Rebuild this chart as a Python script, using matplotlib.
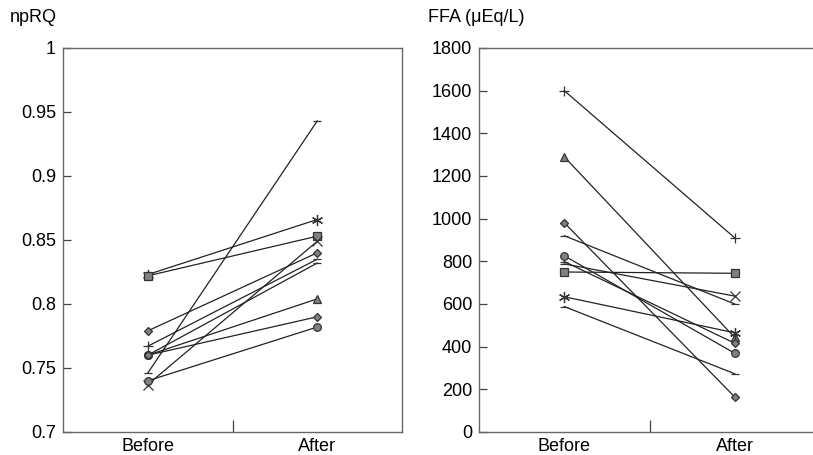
import matplotlib
matplotlib.use("Agg")
import matplotlib.pyplot as plt
from matplotlib.ticker import FormatStrFormatter, FixedLocator

plt.rcParams['font.family'] = ['Liberation Sans', 'DejaVu Sans']

# npRQ, before / after for each subject
npRQ_before = [0.746, 0.823, 0.822, 0.737, 0.779, 0.767, 0.760, 0.760, 0.760, 0.740]
npRQ_after = [0.943, 0.866, 0.853, 0.849, 0.840, 0.835, 0.832, 0.804, 0.790, 0.782]

# FFA (uEq/L), before / after
ffa_before = [1600, 1290, 981, 920, 826, 799, 788, 750, 634, 588]
ffa_after = [910, 443, 164, 600, 369, 416, 637, 744, 465, 273]

groups = ['Before', 'After']
npRQ_ticks = [0.7, 0.75, 0.8, 0.85, 0.9, 0.95, 1]
ffa_ticks = list(range(0, 1801, 200))

AST = (6, 2, 0)
npRQ_mk_b = ['_', AST, 's', 'x', 'D', '+', 'o', 'o', 'D', 'o']
npRQ_mk_a = ['_', AST, 's', 'x', 'D', '_', '_', '^', 'D', 'o']
ffa_mk_b = ['+', '^', 'D', '_', 'o', '_', '_', 's', AST, '_']
ffa_mk_a = ['+', '^', 'D', '_', 'o', 'D', 'x', 's', AST, '_']

# marker sizes
SIZES = {'D': 4.5, 'x': 7, AST: 8, '+': 7}

fig = plt.figure(figsize=(8.13, 4.55), dpi=100)
W, H = 813, 455
ax1 = fig.add_axes([63 / W, 1 - 432 / H, 339 / W, 384 / H])
ax2 = fig.add_axes([479 / W, 1 - 432 / H, 341 / W, 384 / H])


def draw(ax, before, after, mk_b, mk_a):
    for b, a, m1, m2 in zip(before, after, mk_b, mk_a):
        ax.plot([1, 3], [b, a], color='#222222', lw=0.9, zorder=2)
        for x, y, m in ((1, b, m1), (3, a, m2)):
            ax.plot(x, y, marker=m, ms=SIZES.get(m, 5.5),
                    mfc='#808080', mec='#333333', mew=0.9, zorder=3)
    ax.set_xlim(0, 4)
    ax.set_xticks([1, 3])
    ax.set_xticklabels(groups)
    ax.xaxis.set_minor_locator(FixedLocator([2]))
    ax.tick_params(axis='x', which='major', length=0, pad=4, labelsize=13)
    ax.tick_params(axis='x', which='minor', direction='in', length=9,
                   width=0.9, color='#444444')
    ax.tick_params(axis='y', direction='in', length=6, width=0.9,
                   color='#444444', labelsize=13, pad=5)
    for s in ax.spines.values():
        s.set_color('#666666')
        s.set_linewidth(1.0)


draw(ax1, npRQ_before, npRQ_after, npRQ_mk_b, npRQ_mk_a)
ax1.set_ylim(0.7, 1)
ax1.set_yticks(npRQ_ticks)
ax1.yaxis.set_major_formatter(FormatStrFormatter('%g'))

draw(ax2, ffa_before, ffa_after, ffa_mk_b, ffa_mk_a)
ax2.set_ylim(0, 1800)
ax2.set_yticks(ffa_ticks)
ax2.spines['right'].set_visible(False)

fig.text(10 / W, 1 - 18 / H, 'npRQ', fontsize=13, va='center', ha='left')
fig.text(428 / W, 1 - 18 / H, 'FFA (μEq/L)', fontsize=13, va='center', ha='left')

fig.savefig('out.png', dpi=100)
